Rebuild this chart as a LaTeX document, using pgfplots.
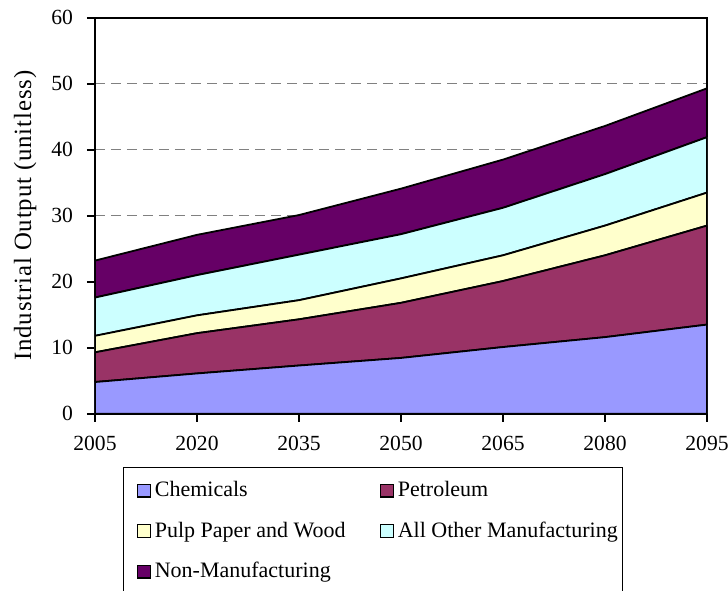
\documentclass[border=0pt]{standalone}
\usepackage{pgfplots}
\pgfplotsset{compat=1.18}
\usepackage{fontspec}
\setmainfont{Liberation Serif}

\definecolor{chemC}{HTML}{9999FF}
\definecolor{petrC}{HTML}{993366}
\definecolor{pulpC}{HTML}{FFFFCC}
\definecolor{othrC}{HTML}{CCFFFF}
\definecolor{nonmC}{HTML}{660066}

\newcommand{\tickfont}{\fontsize{10.8}{12.5}\selectfont}
\newcommand{\legfont}{\fontsize{11}{13}\selectfont}
\newcommand{\labfont}{\fontsize{12.4}{14}\selectfont\addfontfeature{LetterSpace=3.5}}

\begin{document}
\begin{tikzpicture}
\begin{axis}[
  at={(0pt,0pt)}, anchor=south west,
  scale only axis,
  width=306pt, height=198pt,
  xmin=2005, xmax=2095,
  ymin=0, ymax=60,
  xtick={2005,2020,2035,2050,2065,2080,2095},
  ytick={0,10,20,30,40,50,60},
  tick pos=left,
  tick align=outside,
  major tick length=4pt,
  axis line style={black, line width=0.9pt},
  every tick/.style={black, line width=0.8pt},
  ymajorgrids,
  major grid style={gray, dashed, dash pattern=on 5pt off 3pt, line width=0.6pt},
  /pgf/number format/assume math mode=true,
  /pgf/number format/set thousands separator={},
  tick label style={font=\tickfont},
  yticklabel style={xshift=-3.5pt},
  xticklabel style={yshift=-3.5pt},
  ylabel={Industrial Output (unitless)},
  every axis y label/.style={at={(axis description cs:-0.114,0.5)}, rotate=90, anchor=center, font=\labfont},
  stack plots=y,
  area style,
  axis on top=false,
  legend columns=2,
  legend cell align=left,
  legend style={
    font=\legfont,
    at={(axis description cs:0.0458,-0.1346)}, anchor=north west,
    draw=black, line width=0.5pt,
    inner xsep=0.3pt, inner ysep=5pt,
    /tikz/every even column/.append style={column sep=8.8pt},
    /tikz/row sep=7pt,
  },
  legend image code/.code={%
    \path (-6.2pt,0pt);
    \draw[#1, draw=black, line width=0.6pt] (0pt,-3.2pt) rectangle (6.4pt,3.2pt);},
]
% layers are stacked from the bottom up
\addplot[fill=chemC, draw=black, line width=0.9pt] coordinates
  {(2005,4.8) (2020,6.1) (2035,7.3) (2050,8.45) (2065,10.1) (2080,11.6) (2095,13.5)} \closedcycle;
\addlegendentry{Chemicals}
\addplot[fill=petrC, draw=black, line width=0.9pt] coordinates
  {(2005,4.5) (2020,6.1) (2035,7.0) (2050,8.35) (2065,10.0) (2080,12.4) (2095,15.0)} \closedcycle;
\addlegendentry{Petroleum}
\addplot[fill=pulpC, draw=black, line width=0.9pt] coordinates
  {(2005,2.5) (2020,2.7) (2035,2.9) (2050,3.7) (2065,3.9) (2080,4.5) (2095,5.0)} \closedcycle;
\addlegendentry{Pulp Paper and Wood}
\addplot[fill=othrC, draw=black, line width=0.9pt] coordinates
  {(2005,5.8) (2020,6.1) (2035,6.9) (2050,6.7) (2065,7.2) (2080,7.8) (2095,8.4)} \closedcycle;
\addlegendentry{All Other Manufacturing}
\addplot[fill=nonmC, draw=black, line width=0.9pt] coordinates
  {(2005,5.6) (2020,6.1) (2035,6.0) (2050,6.9) (2065,7.3) (2080,7.3) (2095,7.4)} \closedcycle;
\addlegendentry{Non-Manufacturing}
\end{axis}
\pgfresetboundingbox
\useasboundingbox (-47.5pt,-88.15pt) rectangle (316.5pt,206.85pt);
\end{tikzpicture}
\end{document}
